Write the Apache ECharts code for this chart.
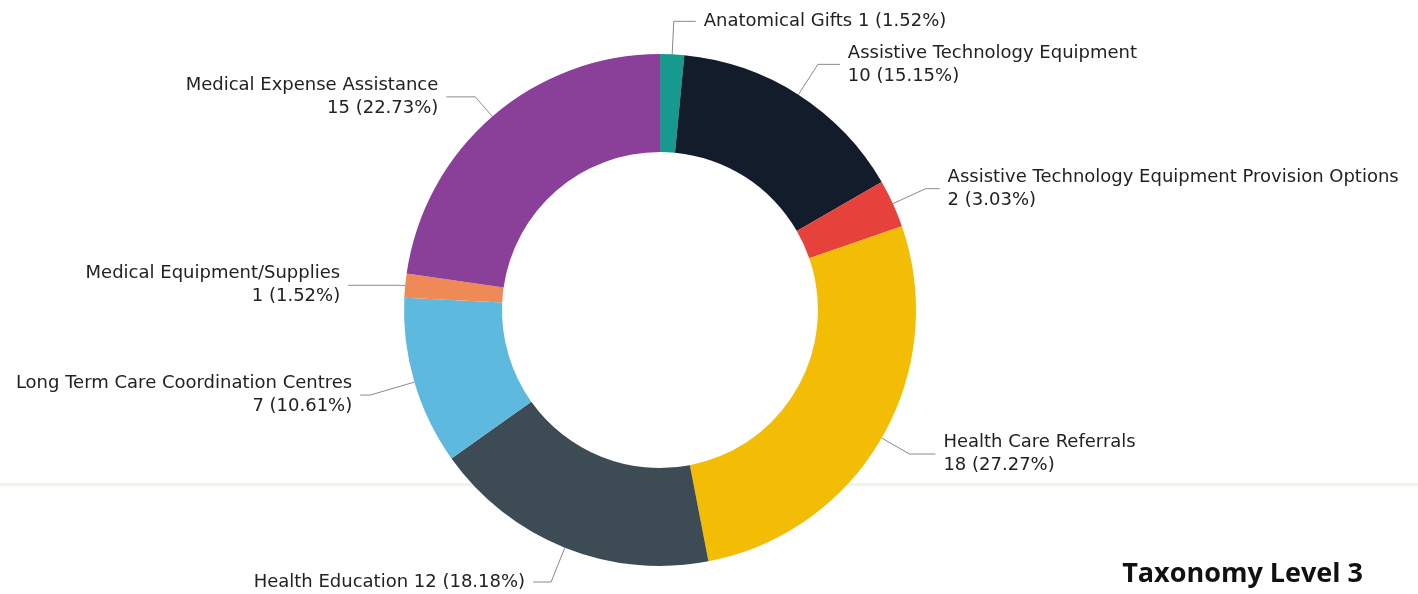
<!DOCTYPE html>
<html>
<head>
<meta charset="utf-8">
<script src="https://cdn.jsdelivr.net/npm/echarts@6/dist/echarts.min.js"></script>
<style>
html,body{margin:0;padding:0;background:#fff;}
#main{width:1418px;height:594px;}
</style>
</head>
<body>
<div id="main"></div>
<script>
// ---- data ----
const categories = [
  'Anatomical Gifts',
  'Assistive Technology Equipment',
  'Assistive Technology Equipment Provision Options',
  'Health Care Referrals',
  'Health Education',
  'Long Term Care Coordination Centres',
  'Medical Equipment/Supplies',
  'Medical Expense Assistance'
];
const counts = [1, 10, 2, 18, 12, 7, 1, 15];
const singleLineLabels = ['Anatomical Gifts', 'Health Education'];
const chartTitle = 'Taxonomy Level 3';

// ---- styles ----
const sliceColors = ['#17998d', '#121c2b', '#e7413b', '#f3bd05', '#3d4b54', '#5db9de', '#ef8a56', '#8a3f99'];
const lineLen = [[33, 22], [36, 22], [36, 14], [32, 26], [37, 18], [46, 10], [4, 53], [26, 29]];

const total = counts.reduce((a, b) => a + b, 0);
const pieData = categories.map((name, i) => ({
  name: name,
  value: counts[i],
  itemStyle: { color: sliceColors[i] },
  labelLine: { length: lineLen[i][0], length2: lineLen[i][1] }
}));

const chart = echarts.init(document.getElementById('main'), null, { renderer: 'canvas' });
chart.setOption({
  backgroundColor: '#ffffff',
  animation: false,
  title: {
    text: chartTitle,
    right: 50,
    bottom: 1,
    textStyle: { fontFamily: 'Open Sans', fontWeight: 'bold', fontSize: 27, color: '#111' }
  },
  graphic: [{
    type: 'rect',
    left: 0, top: 483,
    shape: { width: 1418, height: 3 },
    style: { fill: '#f4f2e6' },
    z: -10
  }],
  series: [{
    type: 'pie',
    center: [660, 310],
    radius: [158, 256],
    startAngle: 90,
    clockwise: true,
    avoidLabelOverlap: false,
    itemStyle: { borderWidth: 0 },
    label: {
      show: true,
      position: 'outside',
      fontFamily: 'DejaVu Sans',
      fontSize: 18,
      lineHeight: 23,
      color: '#222',
      distanceToLabelLine: 8,
      formatter: function (p) {
        const pct = (p.value / total * 100).toFixed(2);
        const sep = singleLineLabels.indexOf(p.name) >= 0 ? ' ' : '\n';
        return p.name + sep + p.value + ' (' + pct + '%)';
      }
    },
    labelLine: {
      show: true,
      smooth: false,
      lineStyle: { color: '#8a8a8a', width: 1 }
    },
    data: pieData
  }]
});
</script>
</body>
</html>
